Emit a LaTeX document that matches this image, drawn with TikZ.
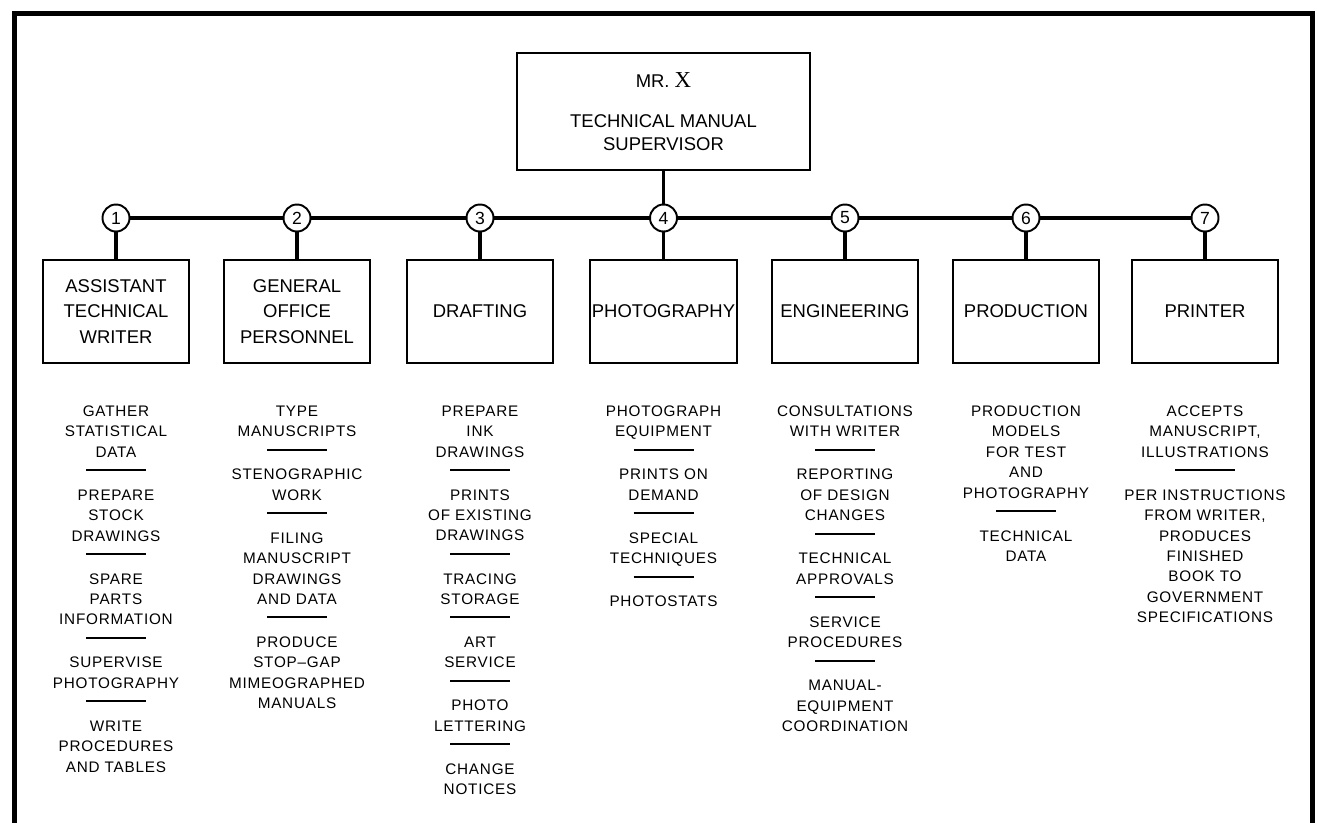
\documentclass[tikz,border=0pt]{standalone}
\usepackage{fontspec}
\setmainfont{Liberation Sans}
\newfontfamily\serifX{Liberation Serif}
\newfontfamily\lettering[LetterSpace=5]{Liberation Sans}
\usepackage{tikz}
\usetikzlibrary{positioning}

\newcommand{\dutyrule}{\rule[3.6pt]{1.2cm}{1.2pt}}

\begin{document}
\begin{tikzpicture}[
    every node/.style={align=center},
    head/.style  ={draw=black, line width=1.1pt,
                   minimum width=5.86cm, minimum height=2.34cm,
                   font=\fontsize{10.5}{13}\selectfont},
    dept/.style  ={draw=black, line width=1.1pt,
                   minimum width=2.92cm, minimum height=2.06cm,
                   inner sep=1pt,
                   font=\fontsize{10.5}{14.7}\selectfont},
    num/.style   ={circle, draw=black, line width=1.1pt, fill=white,
                   minimum size=0.54cm, inner sep=0pt,
                   font=\fontsize{10}{12}\selectfont},
    duties/.style={anchor=north, inner sep=0pt,
                   font=\lettering\fontsize{8.7}{11.6}\selectfont},
    link/.style  ={draw=black, line width=1.8pt},
    border/.style={draw=black, line width=2.85pt},
  ]
  \useasboundingbox (0,0) rectangle (26.36,-16.44);

  %% --- column x-positions and row y-positions ----------------------------
  \def\xA{2.32}     % assistant writer
  \def\xB{5.94}     % office
  \def\xC{9.60}     % drafting
  \def\xD{13.27}    % photography
  \def\xE{16.90}    % engineering
  \def\xF{20.52}    % production
  \def\xG{24.10}    % printer

  \def\yHead{-2.23} % supervisor box
  \def\yNum{-4.36}  % numbered circles
  \def\yDept{-6.23} % department boxes

  %% --- outer frame (runs off the bottom edge) ----------------------------
  \draw[border] (0.29,-17) -- (0.29,-0.26) -- (26.24,-0.26) -- (26.24,-17);

  %% --- supervisor --------------------------------------------------------
  \node[head] (super) at (\xD,\yHead)
    {MR.\ {\serifX\fontsize{13}{13}\selectfont X}\\[10pt]
     TECHNICAL MANUAL\\SUPERVISOR};

  %% --- numbered circles --------------------------------------------------
  \node[num] (n1) at (\xA,\yNum) {1};
  \node[num] (n2) at (\xB,\yNum) {2};
  \node[num] (n3) at (\xC,\yNum) {3};
  \node[num] (n4) at (\xD,\yNum) {4};
  \node[num] (n5) at (\xE,\yNum) {5};
  \node[num] (n6) at (\xF,\yNum) {6};
  \node[num] (n7) at (\xG,\yNum) {7};

  %% --- departments -------------------------------------------------------
  \node[dept] (writer)      at (\xA,\yDept) {ASSISTANT\\TECHNICAL\\WRITER};
  \node[dept] (office)      at (\xB,\yDept) {GENERAL\\OFFICE\\PERSONNEL};
  \node[dept] (drafting)    at (\xC,\yDept) {DRAFTING};
  \node[dept] (photo)       at (\xD,\yDept) {PHOTOGRAPHY};
  \node[dept] (engineering) at (\xE,\yDept) {ENGINEERING};
  \node[dept] (production)  at (\xF,\yDept) {PRODUCTION};
  \node[dept] (printer)     at (\xG,\yDept) {PRINTER};

  %% --- duties under each department --------------------------------------
  \node[duties, below=0.83cm of writer] (dutyA)
    {GATHER\\STATISTICAL\\DATA\\\dutyrule\\[1.3pt]
     PREPARE\\STOCK\\DRAWINGS\\\dutyrule\\[1.3pt]
     SPARE\\PARTS\\INFORMATION\\\dutyrule\\[1.3pt]
     SUPERVISE\\PHOTOGRAPHY\\\dutyrule\\[1.3pt]
     WRITE\\PROCEDURES\\AND TABLES};
  \node[duties, below=0.83cm of office] (dutyB)
    {TYPE\\MANUSCRIPTS\\\dutyrule\\[1.3pt]
     STENOGRAPHIC\\WORK\\\dutyrule\\[1.3pt]
     FILING\\MANUSCRIPT\\DRAWINGS\\AND DATA\\\dutyrule\\[1.3pt]
     PRODUCE\\STOP\textendash GAP\\MIMEOGRAPHED\\MANUALS};
  \node[duties, below=0.83cm of drafting] (dutyC)
    {PREPARE\\INK\\DRAWINGS\\\dutyrule\\[1.3pt]
     PRINTS\\OF EXISTING\\DRAWINGS\\\dutyrule\\[1.3pt]
     TRACING\\STORAGE\\\dutyrule\\[1.3pt]
     ART\\SERVICE\\\dutyrule\\[1.3pt]
     PHOTO\\LETTERING\\\dutyrule\\[1.3pt]
     CHANGE\\NOTICES};
  \node[duties, below=0.83cm of photo] (dutyD)
    {PHOTOGRAPH\\EQUIPMENT\\\dutyrule\\[1.3pt]
     PRINTS ON\\DEMAND\\\dutyrule\\[1.3pt]
     SPECIAL\\TECHNIQUES\\\dutyrule\\[1.3pt]
     PHOTOSTATS};
  \node[duties, below=0.83cm of engineering] (dutyE)
    {CONSULTATIONS\\WITH WRITER\\\dutyrule\\[1.3pt]
     REPORTING\\OF DESIGN\\CHANGES\\\dutyrule\\[1.3pt]
     TECHNICAL\\APPROVALS\\\dutyrule\\[1.3pt]
     SERVICE\\PROCEDURES\\\dutyrule\\[1.3pt]
     MANUAL-\\EQUIPMENT\\COORDINATION};
  \node[duties, below=0.83cm of production] (dutyF)
    {PRODUCTION\\MODELS\\FOR TEST\\AND\\PHOTOGRAPHY\\\dutyrule\\[1.3pt]
     TECHNICAL\\DATA};
  \node[duties, below=0.83cm of printer] (dutyG)
    {ACCEPTS\\MANUSCRIPT,\\ILLUSTRATIONS\\\dutyrule\\[1.3pt]
     PER INSTRUCTIONS\\FROM WRITER,\\PRODUCES\\FINISHED\\BOOK TO\\
     GOVERNMENT\\SPECIFICATIONS};

  %% --- connectors --------------------------------------------------------
  % supervisor -> bus
  \draw[link] (super) -- (n4);

  % horizontal bus between the circles
  \draw[link] (n1) -- (n2);
  \draw[link] (n2) -- (n3);
  \draw[link] (n3) -- (n4);
  \draw[link] (n4) -- (n5);
  \draw[link] (n5) -- (n6);
  \draw[link] (n6) -- (n7);

  % circles -> departments
  \draw[link] (n1) -- (writer);
  \draw[link] (n2) -- (office);
  \draw[link] (n3) -- (drafting);
  \draw[link] (n4) -- (photo);
  \draw[link] (n5) -- (engineering);
  \draw[link] (n6) -- (production);
  \draw[link] (n7) -- (printer);

\end{tikzpicture}
\end{document}
